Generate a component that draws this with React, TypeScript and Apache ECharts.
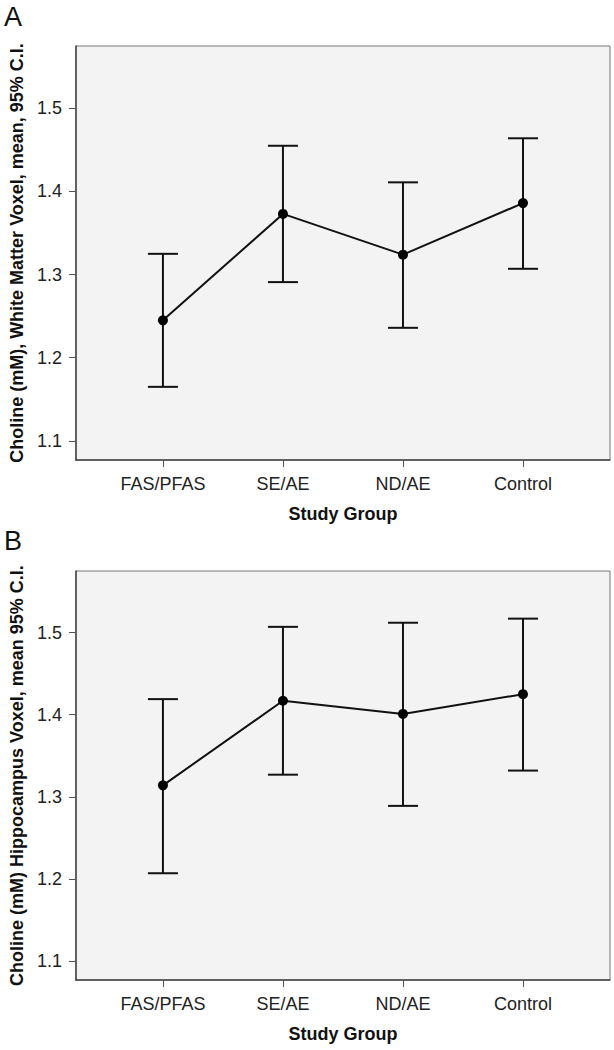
import React, { useEffect, useRef } from "react";
import * as echarts from "echarts";

const categories = ["FAS/PFAS", "SE/AE", "ND/AE", "Control"];
const yTicks = [1.1, 1.2, 1.3, 1.4, 1.5];

const whiteMean = [1.245, 1.373, 1.324, 1.386];
const whiteLower = [1.165, 1.291, 1.236, 1.307];
const whiteUpper = [1.325, 1.455, 1.411, 1.464];

const hippoMean = [1.314, 1.417, 1.401, 1.425];
const hippoLower = [1.207, 1.327, 1.289, 1.332];
const hippoUpper = [1.419, 1.507, 1.512, 1.517];

const FONT = "Liberation Sans, Arial, Helvetica, sans-serif";

function errorSeries(idx: number, lower: number[], upper: number[]) {
  return {
    type: "custom",
    xAxisIndex: idx,
    yAxisIndex: idx,
    silent: true,
    z: 2,
    data: categories.map((_, i) => [i, lower[i], upper[i]]),
    renderItem: (params: any, api: any) => {
      const x = api.value(0);
      const lo = api.coord([x, api.value(1)]);
      const hi = api.coord([x, api.value(2)]);
      const hw = 15;
      const style = { stroke: "#111", lineWidth: 2 };
      return {
        type: "group",
        children: [
          { type: "line", shape: { x1: lo[0], y1: lo[1], x2: hi[0], y2: hi[1] }, style },
          { type: "line", shape: { x1: lo[0] - hw, y1: lo[1], x2: lo[0] + hw, y2: lo[1] }, style },
          { type: "line", shape: { x1: hi[0] - hw, y1: hi[1], x2: hi[0] + hw, y2: hi[1] }, style },
        ],
      };
    },
  };
}

function meanSeries(idx: number, mean: number[]) {
  return {
    type: "line",
    xAxisIndex: idx,
    yAxisIndex: idx,
    z: 3,
    data: categories.map((_, i) => [i, mean[i]]),
    symbol: "circle",
    symbolSize: 10,
    itemStyle: { color: "#000" },
    lineStyle: { color: "#111", width: 2 },
  };
}

function xAxis(idx: number) {
  return {
    type: "value",
    gridIndex: idx,
    min: -0.725,
    max: 3.725,
    name: "Study Group",
    nameLocation: "middle",
    nameGap: 45,
    nameTextStyle: { fontFamily: FONT, fontSize: 18, fontWeight: "bold", color: "#111" },
    axisLine: { show: true, onZero: false, lineStyle: { color: "#444", width: 1.5 } },
    axisTick: { show: true, inside: false, length: 7, customValues: [0, 1, 2, 3], lineStyle: { color: "#555", width: 1 } },
    axisLabel: {
      customValues: [0, 1, 2, 3],
      margin: 15,
      fontFamily: FONT,
      fontSize: 18,
      color: "#222",
      formatter: (v: number) => categories[Math.round(v)] ?? "",
    },
    splitLine: { show: false },
  };
}

function yAxis(idx: number, name: string) {
  return {
    type: "value",
    gridIndex: idx,
    min: 1.077,
    max: 1.575,
    name,
    nameLocation: "middle",
    nameGap: 46,
    nameTextStyle: { fontFamily: FONT, fontSize: 18, fontWeight: "bold", color: "#111" },
    axisLine: { show: true, onZero: false, lineStyle: { color: "#444", width: 1.5 } },
    axisTick: { show: true, inside: false, length: 7, customValues: yTicks, lineStyle: { color: "#555", width: 1 } },
    axisLabel: {
      customValues: yTicks,
      margin: 14,
      fontFamily: FONT,
      fontSize: 18,
      color: "#222",
      formatter: (v: number) => v.toFixed(1),
    },
    splitLine: { show: false },
  };
}

export default function App() {
  const ref = useRef<HTMLDivElement>(null);
  useEffect(() => {
    if (!ref.current) return;
    const chart = echarts.init(ref.current, undefined, { renderer: "svg" });
    chart.setOption({
      animation: false,
      backgroundColor: "#fff",
      grid: [
        { left: 69, top: 46, width: 541, height: 414, show: true, backgroundColor: "#f3f3f3", borderColor: "#777", borderWidth: 1 },
        { left: 69, top: 571, width: 541, height: 409, show: true, backgroundColor: "#f3f3f3", borderColor: "#777", borderWidth: 1 },
      ],
      xAxis: [xAxis(0), xAxis(1)],
      yAxis: [
        yAxis(0, "Choline (mM), White Matter Voxel, mean, 95% C.I."),
        yAxis(1, "Choline (mM) Hippocampus Voxel, mean 95% C.I."),
      ],
      graphic: [
        { type: "text", left: 4, top: 3, style: { text: "A", fontFamily: FONT, fontSize: 27, fill: "#111" } },
        { type: "text", left: 4, top: 527, style: { text: "B", fontFamily: FONT, fontSize: 27, fill: "#111" } },
      ],
      series: [
        errorSeries(0, whiteLower, whiteUpper),
        meanSeries(0, whiteMean),
        errorSeries(1, hippoLower, hippoUpper),
        meanSeries(1, hippoMean),
      ],
    });
    return () => chart.dispose();
  }, []);
  return (
    <div
      ref={ref}
      style={{ position: "fixed", left: 0, top: 0, width: 614, height: 1050 }}
    />
  );
}
